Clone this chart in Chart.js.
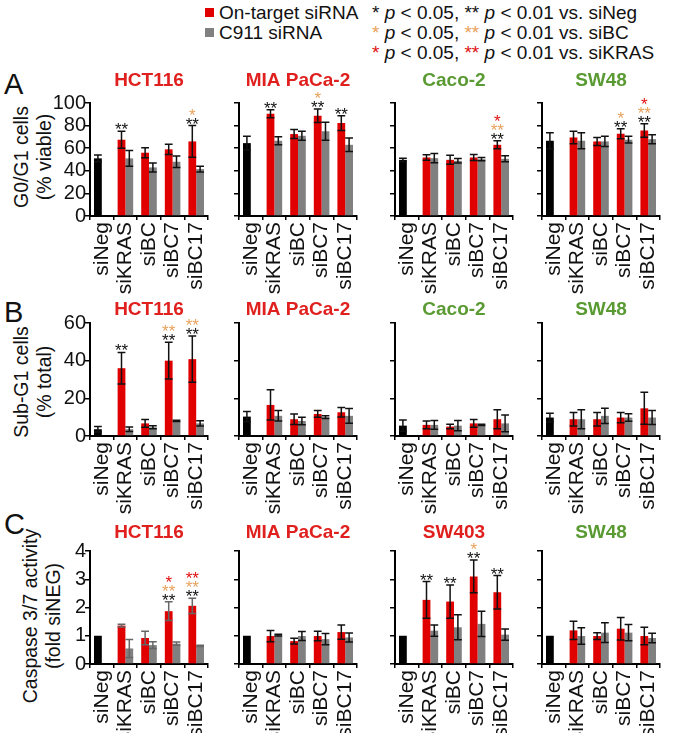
<!DOCTYPE html>
<html>
<head>
<meta charset="utf-8">
<script src="https://cdn.jsdelivr.net/npm/chart.js@4.4.1/dist/chart.umd.min.js"></script>
<style>
  body { margin: 0; background: #fff; width: 677px; height: 733px; position: relative; overflow: hidden;
         font-family: "Liberation Sans", Arial, sans-serif; color: #111; }
  canvas { position: absolute; }
  .letter { position: absolute; font-size: 29px; line-height: 1; }
  .key { position: absolute; font-size: 19px; line-height: 20px; white-space: nowrap; }
  .sw { display: inline-block; width: 9px; height: 9px; margin-right: 5px; vertical-align: 2px; }
  .o { color: #e8a25c; }
  .r { color: #e01010; }
  .ytitle { position: absolute; transform: translate(-50%, -50%) rotate(-90deg); font-size: 19.5px;
            line-height: 23px; text-align: center; white-space: nowrap; }
</style>
</head>
<body>
<div class="key" style="left:205px; top:3px"><span class="sw" style="background:#e00000"></span>On-target siRNA</div>
<div class="key" style="left:205px; top:23px"><span class="sw" style="background:#808080"></span>C911 siRNA</div>
<div class="key" style="left:372px; top:3px">* <i>p</i> &lt; 0.05, ** <i>p</i> &lt; 0.01 vs. siNeg</div>
<div class="key" style="left:372px; top:23px"><span class="o">*</span> <i>p</i> &lt; 0.05, <span class="o">**</span> <i>p</i> &lt; 0.01 vs. siBC</div>
<div class="key" style="left:372px; top:43px"><span class="r">*</span> <i>p</i> &lt; 0.05, <span class="r">**</span> <i>p</i> &lt; 0.01 vs. siKRAS</div>
<div class="letter" style="left:4px; top:70px">A</div>
<div class="letter" style="left:4px; top:298px">B</div>
<div class="letter" style="left:4px; top:510px">C</div>
<div class="ytitle" style="left:33px; top:157px">G0/G1 cells<br>(% viable)</div>
<div class="ytitle" style="left:33px; top:382px">Sub-G1 cells<br>(% total)</div>
<div class="ytitle" style="left:42px; top:616px">Caspase 3/7 activity<br>(fold siNEG)</div>
<script>
const categories = ["siNeg", "siKRAS", "siBC", "siBC7", "siBC17"];

// first value of each on-target array is the siNeg control (black bar)
// stars per category: [vs siNeg, vs siBC, vs siKRAS]

// A: G0/G1 cells (% viable)
const g1Hct116 = [51, 67.5, 56, 59, 66];
const g1Hct116Err = [3, 7.5, 4.5, 4.5, 14];
const g1Hct116C911 = [null, 51, 43, 48, 41.5];
const g1Hct116C911Err = [0, 7, 4, 5, 2.5];
const g1Hct116Stars = [[], ["**"], [], [], ["**", "*"]];

const g1Mia = [64.5, 90.5, 72.5, 88.8, 82.2];
const g1MiaErr = [6, 3.5, 4, 6, 6.5];
const g1MiaC911 = [null, 66.6, 71, 75, 63];
const g1MiaC911Err = [0, 3.5, 4, 8, 6];
const g1MiaStars = [[], ["**"], [], ["**", "*"], ["**"]];

const g1Caco = [49.7, 51.8, 49.7, 51.8, 63];
const g1CacoErr = [1.5, 2.5, 4, 2.7, 3.5];
const g1CacoC911 = [null, 51.2, 48.8, 50.3, 50.6];
const g1CacoC911Err = [0, 4, 2, 1.5, 2.7];
const g1CacoStars = [[], [], [], [], ["**", "**", "*"]];

const g1Sw48 = [66.6, 69.5, 66, 72.8, 75.7];
const g1Sw48Err = [7, 5.5, 3.5, 4.5, 6];
const g1Sw48C911 = [null, 66.6, 66, 67.5, 68];
const g1Sw48C911Err = [0, 7, 4.5, 3, 4];
const g1Sw48Stars = [[], [], [], ["**", "*"], ["**", "**", "*"]];

// B: Sub-G1 cells (% total)
const subHct116 = [3.6, 36, 6.7, 40, 40.8];
const subHct116Err = [1.5, 8.4, 2, 9.8, 12.3];
const subHct116C911 = [null, 3.6, 4.6, 8, 6.7];
const subHct116C911Err = [0, 1.2, 0.8, 0.3, 1.4];
const subHct116Stars = [[], ["**"], [], ["**", "**"], ["**", "**"]];

const subMia = [10.3, 16.5, 8.9, 11.7, 12.6];
const subMiaErr = [2.7, 8, 2.8, 1.8, 2.5];
const subMiaC911 = [null, 10.7, 8, 10, 10.7];
const subMiaC911Err = [0, 2.8, 2, 0.7, 3.9];
const subMiaStars = [[], [], [], [], []];

const subCaco = [5.5, 5.9, 5, 6.7, 8.9];
const subCacoErr = [3, 2.1, 1.2, 2.1, 5];
const subCacoC911 = [null, 5.9, 5.5, 5.9, 6.7];
const subCacoC911Err = [0, 2.3, 2.7, 0.3, 4.4];
const subCacoStars = [[], [], [], [], []];

const subSw48 = [9.8, 8.9, 8.9, 9.8, 14.7];
const subSw48Err = [2.3, 3.6, 3.6, 2.7, 8.5];
const subSw48C911 = [null, 8.9, 10.7, 9.8, 9.8];
const subSw48C911Err = [0, 5, 4, 2, 3.7];
const subSw48Stars = [[], [], [], [], []];

// C: Caspase 3/7 activity (fold siNEG)
const casHct116 = [1, 1.36, 0.92, 1.87, 2.06];
const casHct116Err = [0, 0.05, 0.24, 0.33, 0.27];
const casHct116C911 = [null, 0.55, 0.67, 0.72, 0.64];
const casHct116C911Err = [0, 0.32, 0.12, 0.06, 0.02];
const casHct116Stars = [[], [], [], ["**", "**", "*"], ["**", "**", "**"]];

const casMia = [1, 0.99, 0.81, 0.99, 1.13];
const casMiaErr = [0, 0.2, 0.1, 0.17, 0.25];
const casMiaC911 = [null, 1.02, 0.99, 0.88, 0.94];
const casMiaC911Err = [0, 0.03, 0.16, 0.2, 0.16];
const casMiaStars = [[], [], [], [], []];

const casSw403 = [1, 2.27, 2.21, 3.1, 2.54];
const casSw403Err = [0, 0.65, 0.59, 0.58, 0.59];
const casSw403C911 = [null, 1.18, 1.3, 1.42, 1.04];
const casSw403C911Err = [0, 0.2, 0.44, 0.45, 0.2];
const casSw403Stars = [[], ["**"], ["**"], ["**", "*"], ["**"]];

const casSw48 = [1, 1.19, 0.99, 1.25, 0.99];
const casSw48Err = [0, 0.32, 0.12, 0.4, 0.31];
const casSw48C911 = [null, 0.99, 1.11, 1.11, 0.92];
const casSw48C911Err = [0, 0.29, 0.35, 0.29, 0.17];
const casSw48Stars = [[], [], [], [], []];

const yMax = [100, 60, 4];
const yStep = [20, 20, 1];

const RED = "#e00000", GRAY = "#808080", TITLE_RED = "#e0201e", TITLE_GREEN = "#5a9a32";
const FONT = "'Liberation Sans', Arial, sans-serif";
const starColors = ["#111", "#e8a25c", "#e01010"];

const rowTop = [103, 323, 551];
const titleGap = [22, 13, 18];
const colAxis = [90, 239, 395, 542];
const plotW = 128, plotH = 113, padTop = 36, axisH = 80;

const panelPlugin = {
  id: "panel",
  afterDatasetsDraw(chart, args, opts) {
    const ctx = chart.ctx;
    const y = chart.scales.y;
    ctx.save();
    ctx.strokeStyle = opts.errColor;
    ctx.lineWidth = 1.5;
    chart.data.datasets.forEach((ds, i) => {
      chart.getDatasetMeta(i).data.forEach((bar, j) => {
        const v = ds.data[j], e = ds.errors[j];
        if (v == null || !e) return;
        const top = y.getPixelForValue(v + e), bot = y.getPixelForValue(v - e);
        const hw = bar.width / 2;
        ctx.beginPath();
        ctx.moveTo(bar.x, top); ctx.lineTo(bar.x, bot);
        ctx.moveTo(bar.x - hw, top); ctx.lineTo(bar.x + hw, top);
        ctx.moveTo(bar.x - hw, bot); ctx.lineTo(bar.x + hw, bot);
        ctx.stroke();
      });
    });
    // significance stars over the on-target bar
    const on = chart.data.datasets[0];
    const meta = chart.getDatasetMeta(0);
    ctx.font = "17px " + FONT;
    ctx.textAlign = "center";
    ctx.textBaseline = "alphabetic";
    opts.stars.forEach((list, j) => {
      if (!list.length) return;
      const bar = meta.data[j];
      let base = y.getPixelForValue(on.data[j] + on.errors[j]) + 4;
      list.forEach((s, k) => {
        ctx.fillStyle = starColors[k];
        ctx.fillText(s, bar.x, base);
        base -= 9;
      });
    });
    ctx.restore();
  },
  afterDraw(chart, args, opts) {
    const ctx = chart.ctx, a = chart.chartArea;
    ctx.save();
    ctx.font = "bold 19px " + FONT;
    ctx.fillStyle = opts.titleColor;
    ctx.textAlign = "center";
    ctx.textBaseline = "middle";
    ctx.fillText(opts.title, (a.left + a.right) / 2, a.top - opts.gap);
    ctx.restore();
  }
};

function makePanel(row, col, title, titleColor, on, onErr, c911, c911Err, stars, errColor) {
  const cv = document.createElement("canvas");
  const yW = col === 0 ? 60 : 14;
  cv.width = yW + plotW + 6;
  cv.height = padTop + plotH + axisH;
  cv.style.left = (colAxis[col] - yW) + "px";
  cv.style.top = (rowTop[row] - padTop) + "px";
  document.body.appendChild(cv);

  new Chart(cv, {
    type: "bar",
    data: {
      labels: categories,
      datasets: [
        { data: on, errors: onErr, backgroundColor: on.map((v, i) => i === 0 ? "#000" : RED) },
        { data: c911, errors: c911Err, backgroundColor: GRAY }
      ]
    },
    options: {
      responsive: false,
      animation: false,
      devicePixelRatio: 1,
      layout: { padding: { top: padTop, right: 6, left: 0, bottom: 0 } },
      datasets: { bar: { categoryPercentage: 0.66, barPercentage: 1 } },
      plugins: {
        legend: { display: false },
        tooltip: { enabled: false },
        panel: { title: title, titleColor: titleColor, gap: titleGap[row], stars: stars, errColor: errColor || "#111" }
      },
      scales: {
        x: {
          grid: { drawOnChartArea: false, color: "#000", lineWidth: 1.5, tickLength: 4 },
          border: { color: "#000", width: 2 },
          ticks: { color: "#111", font: { size: 21, family: FONT }, minRotation: 90, maxRotation: 90, padding: 2, autoSkip: false },
          afterFit: s => { s.height = axisH; }
        },
        y: {
          min: 0,
          max: yMax[row],
          grid: { drawOnChartArea: false, color: "#000", lineWidth: 1.5, tickLength: 5 },
          border: { color: "#000", width: 2 },
          ticks: { display: col === 0, stepSize: yStep[row], autoSkip: false, color: "#111", font: { size: 20, family: FONT }, padding: -1 },
          afterFit: s => { s.width = yW; }
        }
      }
    },
    plugins: [panelPlugin]
  });
}

makePanel(0, 0, "HCT116", TITLE_RED, g1Hct116, g1Hct116Err, g1Hct116C911, g1Hct116C911Err, g1Hct116Stars);
makePanel(0, 1, "MIA PaCa-2", TITLE_RED, g1Mia, g1MiaErr, g1MiaC911, g1MiaC911Err, g1MiaStars);
makePanel(0, 2, "Caco-2", TITLE_GREEN, g1Caco, g1CacoErr, g1CacoC911, g1CacoC911Err, g1CacoStars);
makePanel(0, 3, "SW48", TITLE_GREEN, g1Sw48, g1Sw48Err, g1Sw48C911, g1Sw48C911Err, g1Sw48Stars);

makePanel(1, 0, "HCT116", TITLE_RED, subHct116, subHct116Err, subHct116C911, subHct116C911Err, subHct116Stars);
makePanel(1, 1, "MIA PaCa-2", TITLE_RED, subMia, subMiaErr, subMiaC911, subMiaC911Err, subMiaStars);
makePanel(1, 2, "Caco-2", TITLE_GREEN, subCaco, subCacoErr, subCacoC911, subCacoC911Err, subCacoStars);
makePanel(1, 3, "SW48", TITLE_GREEN, subSw48, subSw48Err, subSw48C911, subSw48C911Err, subSw48Stars);

// the HCT116 caspase panel has grey error bars in the original
makePanel(2, 0, "HCT116", TITLE_RED, casHct116, casHct116Err, casHct116C911, casHct116C911Err, casHct116Stars, "#666");
makePanel(2, 1, "MIA PaCa-2", TITLE_RED, casMia, casMiaErr, casMiaC911, casMiaC911Err, casMiaStars);
makePanel(2, 2, "SW403", TITLE_RED, casSw403, casSw403Err, casSw403C911, casSw403C911Err, casSw403Stars);
makePanel(2, 3, "SW48", TITLE_GREEN, casSw48, casSw48Err, casSw48C911, casSw48C911Err, casSw48Stars);
</script>
</body>
</html>
